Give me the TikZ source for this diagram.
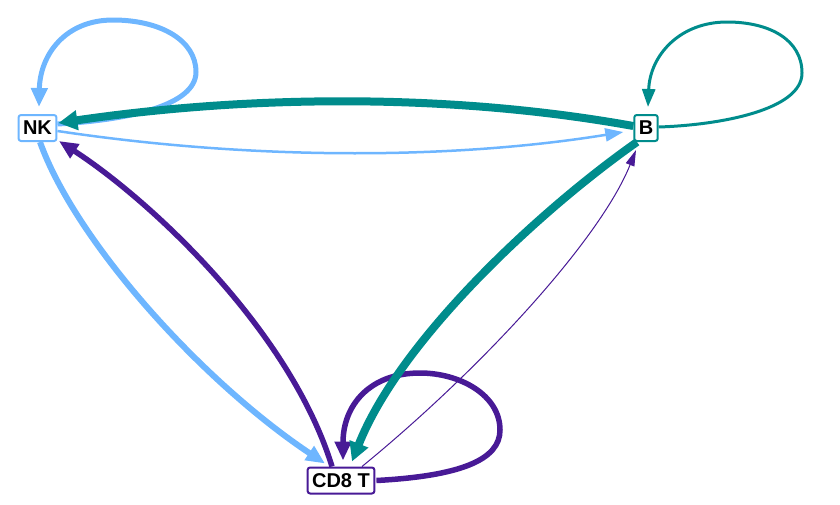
\documentclass[tikz,border=0pt]{standalone}
\usepackage{fontspec}
\setmainfont{Liberation Sans}
\usetikzlibrary{arrows.meta,backgrounds,calc}
\definecolor{lblue}{RGB}{110,182,255}
\definecolor{tealc}{RGB}{0,140,140}
\definecolor{purp}{RGB}{72,26,150}
\begin{document}
\begin{tikzpicture}[x=1pt,y=-1pt,
  cell/.style={draw, fill=white, rounded corners=2.5pt, line width=2pt,
    inner xsep=4.5pt, inner ysep=0pt, minimum height=26pt,
    font=\fontsize{20}{23}\selectfont\bfseries, text=black},
  headbig/.style={-{Triangle[length=19pt,width=19pt]}},
  headmid/.style={-{Triangle[length=19pt,width=16pt]}},
  headsmall/.style={-{Triangle[length=18pt,width=13pt]}},
  headtiny/.style={-{Triangle[length=16pt,width=9pt]}}]
\useasboundingbox (0,0) rectangle (840,504);
\node[cell, draw=lblue] (nk) at (37.5,128) {NK};
\node[cell, draw=tealc] (b) at (646,128) {B};
\node[cell, draw=purp] (cd8) at (341,480.5) {CD8 T};
\begin{pgfonlayer}{background}
% NK self loop
\draw[lblue, line width=5pt, headmid]
  ($(nk.east)+(0,-4)$) .. controls (130,120) and (196,105) .. (196,72)
  .. controls (196,40) and (160,20) .. (113,20)
  .. controls (65,20) and (40,55) .. ($(nk.north)+(1.5,-7)$);
% B self loop
\draw[tealc, line width=3pt, headsmall]
  ($(b.east)+(0,-1)$) .. controls (720,125) and (802,110) .. (802,73)
  .. controls (802,40) and (770,22) .. (727,22)
  .. controls (680,22) and (650,55) .. ($(b.north)+(2,-7)$);
% CD8 self loop
\draw[purp, line width=5.5pt, headmid]
  ($(cd8.east)+(1,0)$) .. controls (460,476) and (500,460) .. (500,430)
  .. controls (500,395) and (460,373) .. (420,373)
  .. controls (370,373) and (343,405) .. ($(cd8.north)+(2,-6)$);
% NK -> B
\draw[lblue, line width=2.5pt, headsmall]
  ($(nk.east)+(0,3)$) .. controls (250,160) and (450,160) .. ($(b.west)+(-10,4)$);
% B -> NK
\draw[tealc, line width=8pt, headbig]
  ($(b.west)+(0,-2)$) .. controls (450,93) and (250,95) .. ($(nk.east)+(1,-5)$);
% NK -> CD8
\draw[lblue, line width=6pt, headmid]
  ($(nk.south)+(2.5,0)$) .. controls (75,240) and (200,380) .. ($(cd8.north)+(-16,-3)$);
% CD8 -> NK
\draw[purp, line width=5.5pt, headmid]
  ($(cd8.north)+(-9,0)$) .. controls (290,330) and (150,200) .. ($(nk.east)+(1.5,13)$);
% B -> CD8
\draw[tealc, line width=8pt, headbig]
  ($(b.south)+(-9,0)$) .. controls (540,210) and (400,340) .. ($(cd8.north)+(11,-5)$);
% CD8 -> B
\draw[purp, line width=1pt, headtiny]
  ($(cd8.north)+(21,0)$) .. controls (480,370) and (600,240) .. ($(b.south)+(-10,8)$);
\end{pgfonlayer}
\end{tikzpicture}
\end{document}
